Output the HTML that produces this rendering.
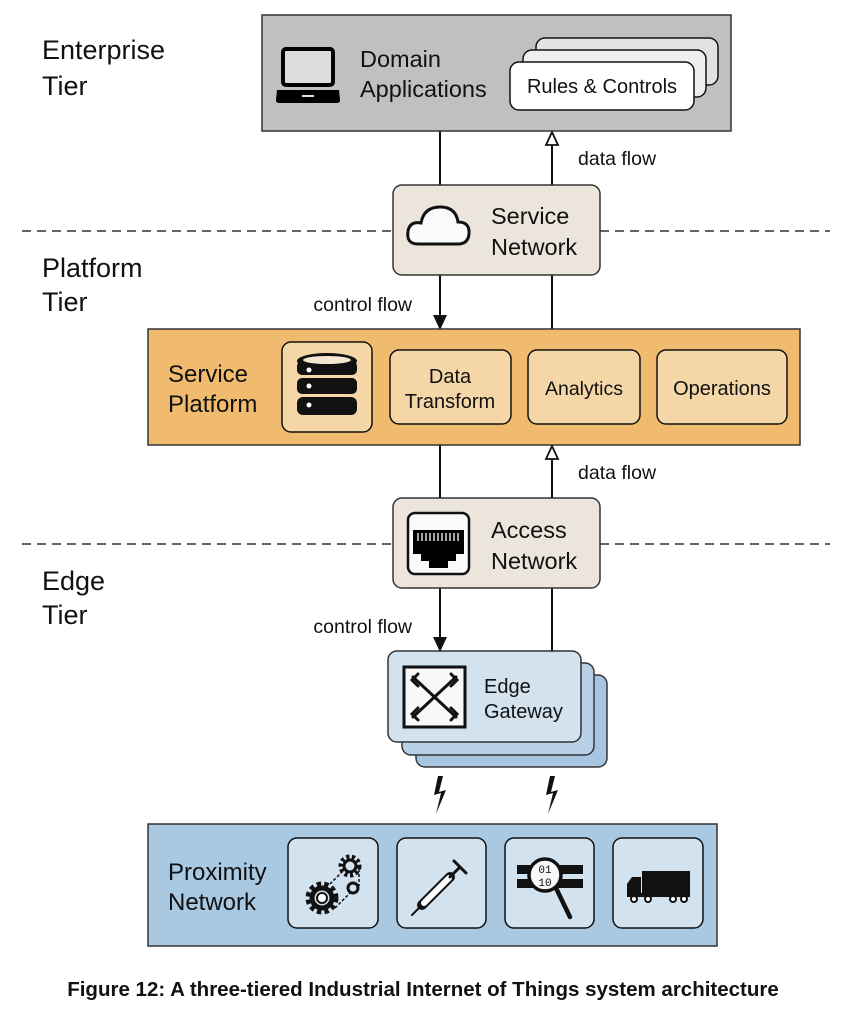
<!DOCTYPE html>
<html><head><meta charset="utf-8"><style>
html,body{margin:0;padding:0;background:#fff}
svg{display:block}
text{font-family:"Liberation Sans",sans-serif;fill:#111}
</style></head><body>
<svg width="847" height="1014" viewBox="0 0 847 1014" xmlns="http://www.w3.org/2000/svg">
<!-- dashed lines -->
<line x1="22" y1="231" x2="393" y2="231" stroke="#333" stroke-width="1.5" stroke-dasharray="9,6"/>
<line x1="600" y1="231" x2="830" y2="231" stroke="#333" stroke-width="1.5" stroke-dasharray="9,6"/>
<line x1="22" y1="544" x2="393" y2="544" stroke="#333" stroke-width="1.5" stroke-dasharray="9,6"/>
<line x1="600" y1="544" x2="830" y2="544" stroke="#333" stroke-width="1.5" stroke-dasharray="9,6"/>
<!-- tier labels -->
<text x="42" y="59" font-size="27">Enterprise</text>
<text x="42" y="95" font-size="27">Tier</text>
<text x="42" y="277" font-size="27">Platform</text>
<text x="42" y="311" font-size="27">Tier</text>
<text x="42" y="590" font-size="27">Edge</text>
<text x="42" y="624" font-size="27">Tier</text>

<!-- connectors -->
<g stroke="#111" stroke-width="2" fill="none">
<line x1="440" y1="131" x2="440" y2="185"/>
<line x1="552" y1="145" x2="552" y2="185"/>
<line x1="440" y1="275" x2="440" y2="318"/>
<line x1="552" y1="275" x2="552" y2="329"/>
<line x1="440" y1="445" x2="440" y2="498"/>
<line x1="552" y1="459" x2="552" y2="498"/>
<line x1="440" y1="588" x2="440" y2="640"/>
<line x1="552" y1="588" x2="552" y2="651"/>
</g>
<path d="M552,132 L546,145 L558,145Z" fill="#fff" stroke="#111" stroke-width="1.8"/>
<path d="M552,446 L546,459 L558,459Z" fill="#fff" stroke="#111" stroke-width="1.8"/>
<path d="M433,315 L447,315 L440,330Z" fill="#111"/>
<path d="M433,637 L447,637 L440,652Z" fill="#111"/>
<text x="578" y="165" font-size="19.5">data flow</text>
<text x="578" y="479" font-size="19.5">data flow</text>
<text x="412" y="311" font-size="19.5" text-anchor="end">control flow</text>
<text x="412" y="633" font-size="19.5" text-anchor="end">control flow</text>

<!-- Enterprise -->
<rect x="262" y="15" width="469" height="116" fill="#c0c0c2" stroke="#333" stroke-width="1.5"/>
<rect x="283" y="49" width="50" height="36" rx="3" fill="#ddd" stroke="#000" stroke-width="4"/>
<path d="M277,90 L339,90 L340,100 Q340,103 337,103 L279,103 Q276,103 276,100Z" fill="#000"/>
<rect x="302" y="95" width="12" height="2" fill="#ddd"/>
<text x="360" y="67" font-size="23.5">Domain</text>
<text x="360" y="97" font-size="23.5">Applications</text>
<rect x="536" y="38" width="182" height="47" rx="9" fill="#e2e2e2" stroke="#111" stroke-width="1.5"/>
<rect x="523" y="50" width="183" height="47" rx="9" fill="#efefef" stroke="#111" stroke-width="1.5"/>
<rect x="510" y="62" width="184" height="48" rx="9" fill="#fff" stroke="#111" stroke-width="1.5"/>
<text x="602" y="93" font-size="20" text-anchor="middle">Rules &amp; Controls</text>

<!-- Service Network -->
<rect x="393" y="185" width="207" height="90" rx="9" fill="#ece5dc" stroke="#333" stroke-width="1.5"/>
<path d="M418,244 Q406,244 408,231 Q410,221 421,223 Q424,206 442,207 Q456,208 458,222 Q470,222 469,234 Q468,244 458,244Z" fill="#fafafa" stroke="#111" stroke-width="3"/>
<text x="491" y="224" font-size="23.5">Service</text>
<text x="491" y="255" font-size="23.5">Network</text>

<!-- Service Platform -->
<rect x="148" y="329" width="652" height="116" fill="#f0bb6e" stroke="#333" stroke-width="1.5"/>
<text x="168" y="382" font-size="24">Service</text>
<text x="168" y="412" font-size="24">Platform</text>
<rect x="282" y="342" width="90" height="90" rx="9" fill="#f5d7a7" stroke="#111" stroke-width="1.5"/>
<g fill="#111">
<ellipse cx="327" cy="361" rx="30" ry="8"/>
<rect x="297" y="361" width="60" height="14" rx="5"/>
<rect x="297" y="378" width="60" height="16" rx="5"/>
<rect x="297" y="397" width="60" height="18" rx="6"/>
</g>
<ellipse cx="327" cy="360" rx="24" ry="4" fill="#f5e7cf"/>
<circle cx="309" cy="370" r="2.5" fill="#fff"/><circle cx="309" cy="386" r="2.5" fill="#fff"/><circle cx="309" cy="405" r="2.5" fill="#fff"/>
<rect x="390" y="350" width="121" height="74" rx="9" fill="#f5d7a7" stroke="#111" stroke-width="1.5"/>
<text x="450" y="383" font-size="20" text-anchor="middle">Data</text>
<text x="450" y="408" font-size="20" text-anchor="middle">Transform</text>
<rect x="528" y="350" width="112" height="74" rx="9" fill="#f5d7a7" stroke="#111" stroke-width="1.5"/>
<text x="584" y="395" font-size="19.5" text-anchor="middle">Analytics</text>
<rect x="657" y="350" width="130" height="74" rx="9" fill="#f5d7a7" stroke="#111" stroke-width="1.5"/>
<text x="722" y="395" font-size="20" text-anchor="middle">Operations</text>

<!-- Access Network -->
<rect x="393" y="498" width="207" height="90" rx="9" fill="#ece5dc" stroke="#333" stroke-width="1.5"/>
<rect x="408" y="513" width="61" height="61" rx="7" fill="#fafafa" stroke="#111" stroke-width="2.5"/>
<path d="M413,530 L464,530 L464,554 L456,554 L456,561 L448,561 L448,568 L429,568 L429,561 L421,561 L421,554 L413,554Z" fill="#000"/>
<g stroke="#fff" stroke-width="1.3"><line x1="418" y1="533" x2="418" y2="541"/><line x1="422" y1="533" x2="422" y2="541"/><line x1="426" y1="533" x2="426" y2="541"/><line x1="430" y1="533" x2="430" y2="541"/><line x1="434" y1="533" x2="434" y2="541"/><line x1="438" y1="533" x2="438" y2="541"/><line x1="442" y1="533" x2="442" y2="541"/><line x1="446" y1="533" x2="446" y2="541"/><line x1="450" y1="533" x2="450" y2="541"/><line x1="454" y1="533" x2="454" y2="541"/><line x1="458" y1="533" x2="458" y2="541"/></g>
<text x="491" y="538" font-size="23.5">Access</text>
<text x="491" y="569" font-size="23.5">Network</text>

<!-- Edge Gateway -->
<rect x="416" y="675" width="191" height="92" rx="9" fill="#a7c5e0" stroke="#333" stroke-width="1.5"/>
<rect x="402" y="663" width="192" height="92" rx="9" fill="#b9d1e6" stroke="#333" stroke-width="1.5"/>
<rect x="388" y="651" width="193" height="91" rx="9" fill="#d2e2ef" stroke="#333" stroke-width="1.5"/>
<rect x="404" y="667" width="61" height="60" fill="#f6f8fa" stroke="#111" stroke-width="3"/>
<g stroke="#111" stroke-width="3" fill="none" stroke-linecap="round">
<line x1="413" y1="677" x2="456" y2="717"/><line x1="456" y1="677" x2="413" y2="717"/>
<path d="M418,674 L412,680 L418,686 M451,674 L457,680 L451,686 M418,708 L412,714 L418,720 M451,708 L457,714 L451,720"/>
</g>
<text x="484" y="693" font-size="20">Edge</text>
<text x="484" y="718" font-size="20">Gateway</text>

<!-- lightning -->
<path d="M438,776 L434,795 L441,793 L436,814 L446,790 L439,792 L443,776Z" fill="#111"/>
<path d="M550,776 L546,795 L553,793 L548,814 L558,790 L551,792 L555,776Z" fill="#111"/>

<!-- Proximity -->
<rect x="148" y="824" width="569" height="122" fill="#a9c8e2" stroke="#333" stroke-width="1.5"/>
<text x="168" y="880" font-size="24">Proximity</text>
<text x="168" y="910" font-size="24">Network</text>
<rect x="288" y="838" width="90" height="90" rx="9" fill="#d2e2ef" stroke="#111" stroke-width="1.5"/>
<rect x="397" y="838" width="89" height="90" rx="9" fill="#d2e2ef" stroke="#111" stroke-width="1.5"/>
<rect x="505" y="838" width="89" height="90" rx="9" fill="#d2e2ef" stroke="#111" stroke-width="1.5"/>
<rect x="613" y="838" width="90" height="90" rx="9" fill="#d2e2ef" stroke="#111" stroke-width="1.5"/>
<!-- gears -->
<g stroke="#111" fill="none">
<circle cx="322" cy="898" r="13" stroke-width="7" stroke-dasharray="4,3"/>
<circle cx="322" cy="898" r="10" stroke-width="5"/>
<circle cx="350" cy="866" r="9" stroke-width="5" stroke-dasharray="3,2.5"/>
<circle cx="350" cy="866" r="6" stroke-width="3"/>
<circle cx="353" cy="888" r="5" stroke-width="3"/>
<path d="M330,884 L343,871 M359,869 L359,886 M335,908 L350,893" stroke-width="1.5" stroke-dasharray="3,2"/>
</g>
<circle cx="322" cy="898" r="5" fill="#fff" stroke="#111" stroke-width="2"/>
<!-- syringe -->
<g stroke="#111" stroke-linecap="round">
<line x1="412" y1="915" x2="425" y2="902" stroke-width="2"/>
<line x1="422" y1="905" x2="450" y2="877" stroke-width="10"/>
<line x1="424" y1="903" x2="449" y2="878" stroke="#fff" stroke-width="6"/>
<line x1="450" y1="877" x2="460" y2="867" stroke-width="3"/>
<line x1="454" y1="861" x2="466" y2="873" stroke-width="3"/>
</g>
<!-- magnifier -->
<rect x="517" y="865" width="66" height="9" fill="#111"/><rect x="517" y="879" width="66" height="9" fill="#111"/>
<circle cx="545" cy="875" r="16" fill="#f6f8fa" stroke="#111" stroke-width="3.5"/>
<line x1="556" y1="888" x2="570" y2="917" stroke="#111" stroke-width="4.5" stroke-linecap="round"/>
<text x="545" y="873" font-size="11" text-anchor="middle" style="font-family:'Liberation Mono',monospace">01</text>
<text x="545" y="886" font-size="11" text-anchor="middle" style="font-family:'Liberation Mono',monospace">10</text>
<!-- truck -->
<rect x="642" y="871" width="48" height="22" fill="#111"/>
<path d="M627,895 L627,884 L632,877 L641,877 L641,895Z" fill="#111"/>
<rect x="627" y="893" width="63" height="4" fill="#111"/>
<g fill="#fff" stroke="#111" stroke-width="2"><circle cx="634" cy="899" r="3"/><circle cx="648" cy="899" r="3"/><circle cx="673" cy="899" r="3"/><circle cx="684" cy="899" r="3"/></g>

<text x="423" y="996" font-size="20.5" font-weight="bold" text-anchor="middle">Figure 12: A three-tiered Industrial Internet of Things system architecture</text>
</svg>
</body></html>
